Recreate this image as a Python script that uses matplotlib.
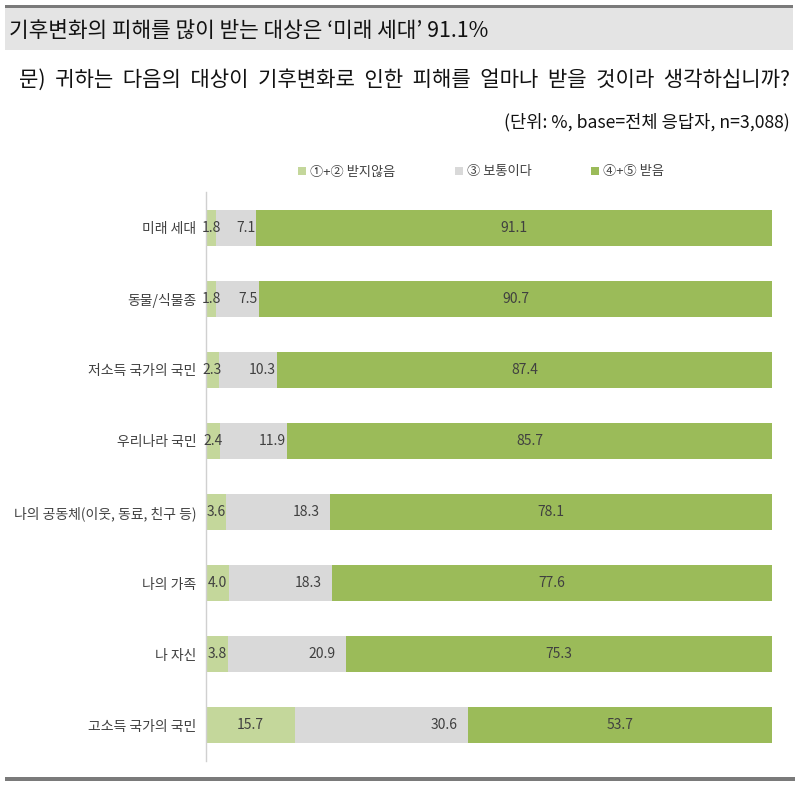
import matplotlib.pyplot as plt
import numpy as np
from matplotlib.patches import Rectangle

plt.rcParams['font.family'] = ['Noto Sans CJK KR', 'DejaVu Sans']

categories = ['미래 세대', '동물/식물종', '저소득 국가의 국민', '우리나라 국민',
              '나의 공동체(이웃, 동료, 친구 등)', '나의 가족', '나 자신', '고소득 국가의 국민']
not_affected = [1.8, 1.8, 2.3, 2.4, 3.6, 4.0, 3.8, 15.7]
neutral = [7.1, 7.5, 10.3, 11.9, 18.3, 18.3, 20.9, 30.6]
affected = [91.1, 90.7, 87.4, 85.7, 78.1, 77.6, 75.3, 53.7]
legend_labels = ['①+② 받지않음', '③ 보통이다', '④+⑤ 받음']

colors = ['#c4d79b', '#d9d9d9', '#9bbb59']
text_col = '#404040'

fig = plt.figure(figsize=(8, 7.86), dpi=100)
W, H = 800, 786

def fx(px):
    return px / W

def fy(py):
    return 1 - py / H

# header lines and band
fig.patches.append(Rectangle((fx(5), fy(8)), fx(788), 3 / H, transform=fig.transFigure,
                             color='#7a7a7a', lw=0))
fig.patches.append(Rectangle((fx(5), fy(50)), fx(788), 42 / H, transform=fig.transFigure,
                             color='#e4e4e4', lw=0))
fig.patches.append(Rectangle((fx(5), fy(781)), fx(790), 4 / H, transform=fig.transFigure,
                             color='#7a7a7a', lw=0))

fig.text(fx(9), fy(31), '기후변화의 피해를 많이 받는 대상은 ‘미래 세대’ 91.1%',
         fontsize=15.4, va='center', ha='left', color='#111111')
fig.text(fx(790), fy(80), '문)  귀하는  다음의  대상이  기후변화로  인한  피해를  얼마나  받을  것이라  생각하십니까?',
         fontsize=15.2, va='center', ha='right', color='#111111')
fig.text(fx(790), fy(122), '(단위: %, base=전체 응답자, n=3,088)',
         fontsize=12.7, va='center', ha='right', color='#111111')

ax = fig.add_axes([fx(206), fy(761), fx(772) - fx(206) + 0.0005, (761 - 192) / H])
y = np.arange(len(categories))
h = 0.506
left = np.zeros(len(categories))
for vals, c, lab in zip([not_affected, neutral, affected], colors, legend_labels):
    ax.barh(y, vals, left=left, height=h, color=c, label=lab, lw=0)
    left = left + np.array(vals)

for i in range(len(categories)):
    a, b, c = not_affected[i], neutral[i], affected[i]
    ax.text(a / 2, i, f'{a:.1f}', ha='center', va='center', fontsize=10, color=text_col)
    pad = 1.8 if b > 15 else 0.2
    ax.text(a + b - pad, i, f'{b:.1f}', ha='right', va='center', fontsize=10, color=text_col)
    ax.text(a + b + c / 2, i, f'{c:.1f}', ha='center', va='center', fontsize=10, color=text_col)

ax.set_xlim(0, 100)
ax.set_ylim(len(categories) - 0.5, -0.5)
ax.set_yticks(y)
ax.set_yticklabels(categories, fontsize=10, color=text_col)
ax.tick_params(axis='y', length=0, pad=7)
ax.set_xticks([])
for s in ['top', 'right', 'bottom']:
    ax.spines[s].set_visible(False)
ax.spines['left'].set_color('#d0d0d0')
ax.spines['left'].set_linewidth(1)

leg = fig.legend(loc='center', bbox_to_anchor=(fx(481), fy(172)), ncol=3, frameon=False,
                 fontsize=9.5, handlelength=0.6, handleheight=0.6, handletextpad=0.3,
                 columnspacing=4.5)
for t in leg.get_texts():
    t.set_color(text_col)

fig.savefig('out.png', dpi=100)
